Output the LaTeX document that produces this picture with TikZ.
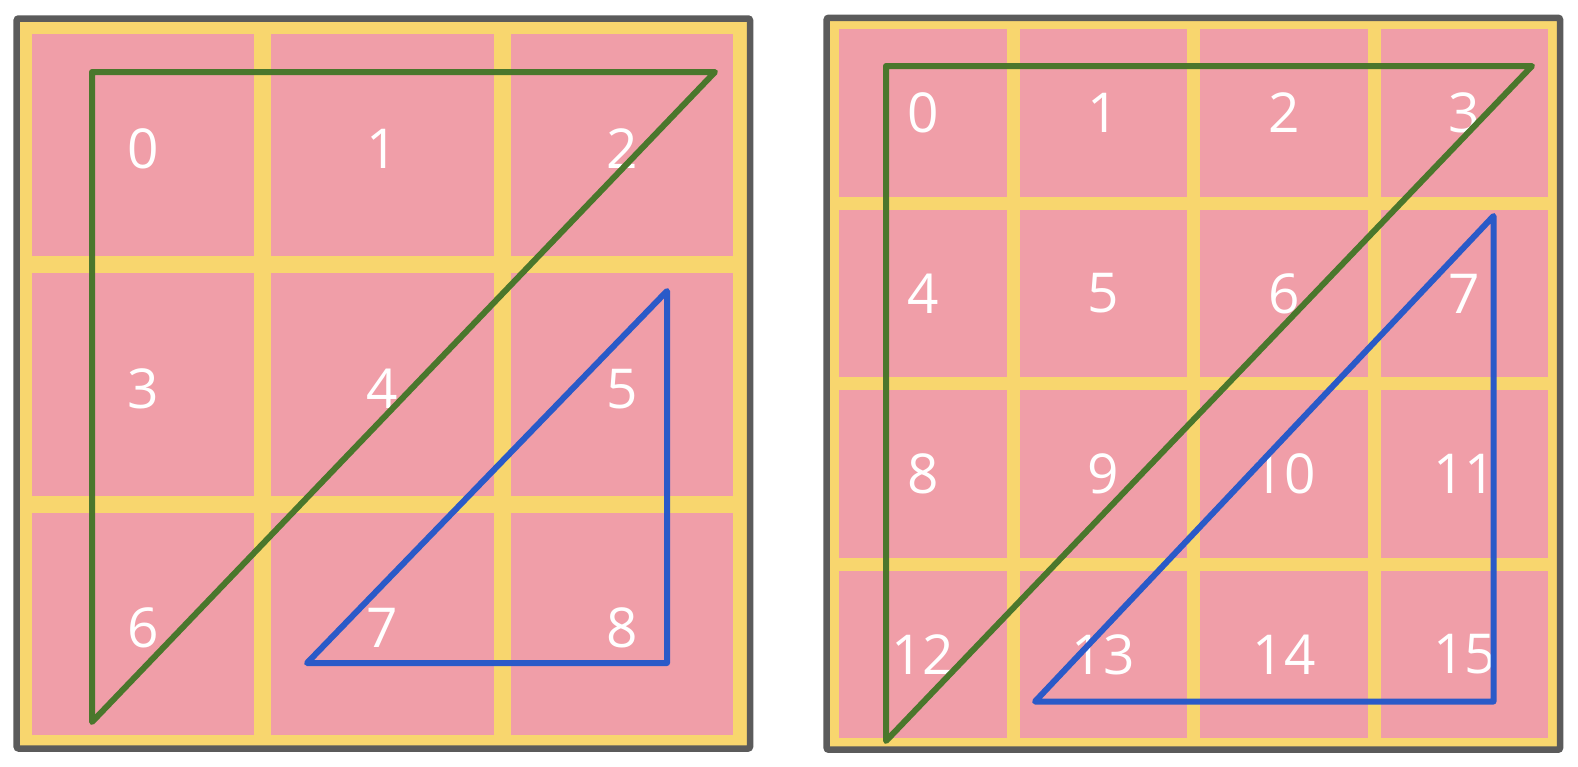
\documentclass[tikz,border=0pt]{standalone}
\usepackage{fontspec}
\setmainfont{Open Sans}
\usepackage{tikz}
\usetikzlibrary{positioning}

\definecolor{framegray}{HTML}{5B5B5B}
\definecolor{gapyellow}{HTML}{F8D66E}
\definecolor{cellpink}{HTML}{F09EA8}
\definecolor{zgreen}{HTML}{4A772C}
\definecolor{zblue}{HTML}{2A5AC8}

\tikzset{
  frame/.style={draw=framegray, line width=6.5pt, fill=gapyellow, rounded corners=2pt},
  cell/.style={fill=cellpink, inner sep=0pt, text=white,
    font=\fontsize{55}{55}\selectfont},
  zpath/.style={line width=6pt, line join=round, line cap=round}
}

\begin{document}
\begin{tikzpicture}[x=1pt, y=-1pt]
  \useasboundingbox (0,0) rectangle (1578,766);
  % left grid, 3 x 3
  \draw[frame] (16.7,18.5) rectangle (750,748.5);
  \foreach \r in {0,1,2}
    \foreach \c in {0,1,2} {
      \pgfmathtruncatemacro{\n}{3*\r+\c}
      \node[cell, minimum size=222.3pt, text height=47pt, text depth=0pt] (l\n) at (143.2+239.3*\c, 145.2+239.3*\r) {\n};
    }
  % right grid, 4 x 4
  \draw[frame] (826.7,17.8) rectangle (1560,749.7);
  \foreach \r in {0,1,2,3}
    \foreach \c in {0,1,2,3} {
      \pgfmathtruncatemacro{\n}{4*\r+\c}
      \node[cell, minimum size=167.6pt] (r\n) at (922.8+180.6*\c, 112.8+180.6*\r) {\n};
    }
  % zigzag triangles
  \coordinate (lga) at (92,72);
  \coordinate (lgb) at (715,72);
  \coordinate (lgc) at (92,722);
  \coordinate (lba) at (667,291);
  \coordinate (lbb) at (667,663);
  \coordinate (lbc) at (307,663);
  \draw[zpath, zgreen] (lga) -- (lgb) -- (lgc) -- cycle;
  \draw[zpath, zblue] (lba) -- (lbb) -- (lbc) -- cycle;
  \coordinate (rga) at (886,66);
  \coordinate (rgb) at (1532,66);
  \coordinate (rgc) at (886,741);
  \coordinate (rba) at (1493.5,216);
  \coordinate (rbb) at (1493.5,701.5);
  \coordinate (rbc) at (1035,701.5);
  \draw[zpath, zgreen] (rga) -- (rgb) -- (rgc) -- cycle;
  \draw[zpath, zblue] (rba) -- (rbb) -- (rbc) -- cycle;
\end{tikzpicture}
\end{document}
